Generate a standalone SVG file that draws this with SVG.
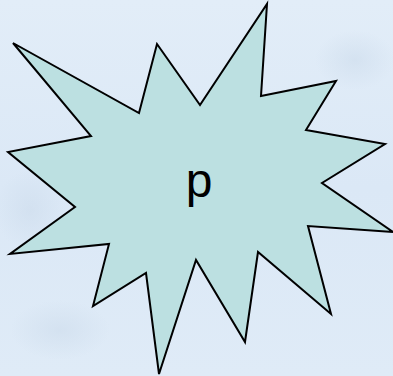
<svg xmlns="http://www.w3.org/2000/svg" width="393" height="376" viewBox="0 0 393 376">
<defs>
<linearGradient id="bg" x1="0" y1="0" x2="0" y2="1">
<stop offset="0" stop-color="#e2edf8"/>
<stop offset="0.5" stop-color="#dbe8f6"/>
<stop offset="1" stop-color="#dfebf7"/>
</linearGradient>
<radialGradient id="cloud1" cx="0.5" cy="0.5" r="0.5">
<stop offset="0" stop-color="#cddcec" stop-opacity="0.6"/>
<stop offset="1" stop-color="#cddcec" stop-opacity="0"/>
</radialGradient>
<style>
.star{fill:#bce0e1;stroke:#000;stroke-width:2;stroke-linejoin:miter}
.lbl{font-family:"Liberation Sans",Arial,sans-serif;font-size:48px;fill:#000;text-anchor:middle}
</style>
</defs>
<rect width="393" height="376" fill="url(#bg)"/>
<ellipse cx="355" cy="60" rx="40" ry="30" fill="url(#cloud1)"/>
<ellipse cx="30" cy="210" rx="35" ry="40" fill="url(#cloud1)"/>
<ellipse cx="60" cy="330" rx="50" ry="30" fill="url(#cloud1)"/>
<g id="node-p">
<polygon class="star" points="13,43 139,113 157,44 200,105 267,4 261,96 336,81 306,130 385,144 322,183 393,232 308,226 331,314 258,252 245,342 196,260 159,374 146,273 93,306 109,244 10,254 75,207 8,152 91,136"/>
<text class="lbl" x="199" y="197">p</text>
</g>
</svg>
